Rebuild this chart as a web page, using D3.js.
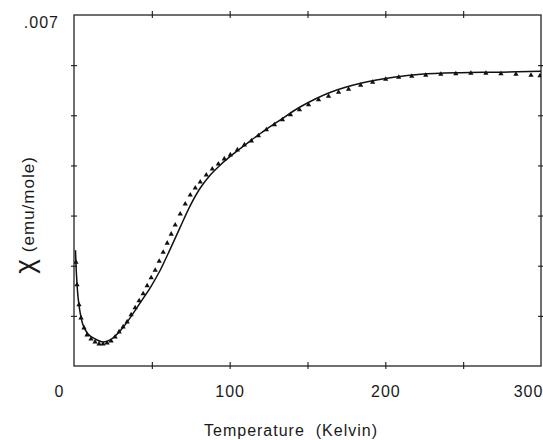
<!DOCTYPE html>
<html>
<head>
<meta charset="utf-8">
<script src="https://cdn.jsdelivr.net/npm/d3@7"></script>
<style>
  html, body { margin: 0; padding: 0; background: #fff; }
  text { font-family: "Liberation Sans", Arial, sans-serif; fill: #1a1a1a; }
</style>
</head>
<body>
<svg id="chart" width="543" height="440"></svg>
<script>
// ---- data (Temperature in K, susceptibility in 1e-3 emu/mole) ----
const fitT   = [0.97, 1.61, 2.58, 3.86, 5.79, 9.01, 13.52, 18.67, 23.18, 29.61, 36.05, 42.49, 48.93, 55.37, 61.80, 68.24, 74.68, 81.12, 87.55, 93.99, 102.36, 113.30, 122.96, 132.62, 145.49, 164.81, 184.12, 205.37, 222.76, 248.51, 274.26, 300];
const fitChi = [2.31, 1.81, 1.38, 1.08, 0.82, 0.64, 0.54, 0.48, 0.52, 0.70, 0.96, 1.26, 1.56, 1.91, 2.33, 2.77, 3.20, 3.55, 3.81, 4.01, 4.23, 4.49, 4.71, 4.91, 5.17, 5.46, 5.64, 5.76, 5.82, 5.85, 5.86, 5.88].map(v => v * 1e-3);

const dataT   = [1.29, 1.93, 3.22, 4.51, 6.44, 8.37, 10.94, 13.52, 16.09, 18.67, 21.25, 23.82, 26.40, 28.97, 31.55, 34.13, 36.70, 39.28, 41.85, 44.43, 47.00, 49.58, 52.16, 54.72, 57.30, 59.87, 62.45, 65.02, 68.24, 71.46, 74.68, 77.90, 81.12, 84.98, 88.84, 92.71, 96.57, 100.43, 104.94, 109.44, 113.95, 118.46, 123.61, 128.76, 133.91, 139.06, 144.85, 150.65, 157.09, 163.52, 169.96, 176.40, 184.12, 191.85, 200.22, 208.59, 216.96, 225.97, 235.63, 245.29, 254.94, 264.60, 274.26, 283.91, 293.57, 299.4];
const dataChi = [2.07, 1.62, 1.22, 0.96, 0.76, 0.62, 0.54, 0.48, 0.44, 0.44, 0.46, 0.50, 0.58, 0.68, 0.78, 0.88, 1.02, 1.16, 1.30, 1.44, 1.60, 1.76, 1.91, 2.09, 2.27, 2.45, 2.63, 2.81, 3.03, 3.23, 3.41, 3.55, 3.67, 3.81, 3.93, 4.03, 4.13, 4.21, 4.31, 4.41, 4.49, 4.59, 4.71, 4.81, 4.91, 5.01, 5.11, 5.21, 5.31, 5.38, 5.46, 5.52, 5.60, 5.66, 5.72, 5.76, 5.78, 5.80, 5.82, 5.83, 5.84, 5.84, 5.83, 5.82, 5.80, 5.79].map(v => v * 1e-3);

const xTicks = [0, 50, 100, 150, 200, 250, 300];
const xLabels = [0, 100, 200, 300];
const yTicks = [0.001, 0.002, 0.003, 0.004, 0.005, 0.006];
const yLabels = [0.007];
const xTitle = "Temperature  (Kelvin)";
const yTitleSym = "χ";
const yTitleRest = "(emu/mole)";

// ---- scales ----
const svg = d3.select("#chart");
const x = d3.scaleLinear().domain([0, 300]).range([74, 541]);
const y = d3.scaleLinear().domain([0, 0.007]).range([366, 15]);

const ink = "#1a1a1a";

// frame
svg.append("rect")
  .attr("x", x(0)).attr("y", y(0.007))
  .attr("width", x(300) - x(0)).attr("height", y(0) - y(0.007))
  .attr("fill", "none").attr("stroke", "#333").attr("stroke-width", 1.4);

function styleAxis(g) {
  g.select(".domain").remove();
  g.selectAll(".tick line").attr("stroke", ink).attr("stroke-width", 1.1);
}

const inner = xTicks.slice(1, -1);

// bottom axis: ticks crossing the line, labels every 100
svg.append("g").attr("transform", `translate(0,${y(0)})`)
  .call(d3.axisBottom(x).tickValues(inner).tickSize(3).tickFormat(""))
  .call(styleAxis);
svg.append("g").attr("transform", `translate(0,${y(0)})`)
  .call(d3.axisBottom(x).tickValues(inner).tickSize(-4).tickFormat(""))
  .call(styleAxis);
const bl = svg.append("g").attr("transform", `translate(0,${y(0)})`)
  .call(d3.axisBottom(x).tickValues(xLabels).tickSize(0).tickFormat(d3.format("d")))
  .call(styleAxis);
bl.selectAll(".tick text")
  .attr("y", 31).attr("dy", 0)
  .attr("dx", d => d === 0 ? -15 : (d === 300 ? -13 : 0))
  .style("font-size", "16px").style("letter-spacing", "1px")
  .attr("fill", ink);

// top axis ticks
svg.append("g").attr("transform", `translate(0,${y(0.007)})`)
  .call(d3.axisTop(x).tickValues(inner).tickSize(4).tickFormat(""))
  .call(styleAxis);
svg.append("g").attr("transform", `translate(0,${y(0.007)})`)
  .call(d3.axisTop(x).tickValues(inner).tickSize(-3).tickFormat(""))
  .call(styleAxis);

// left axis
svg.append("g").attr("transform", `translate(${x(0)},0)`)
  .call(d3.axisLeft(y).tickValues(yTicks).tickSize(3).tickFormat(""))
  .call(styleAxis);
svg.append("g").attr("transform", `translate(${x(0)},0)`)
  .call(d3.axisLeft(y).tickValues(yTicks).tickSize(-3).tickFormat(""))
  .call(styleAxis);
const ll = svg.append("g").attr("transform", `translate(${x(0)},0)`)
  .call(d3.axisLeft(y).tickValues(yLabels).tickSize(0).tickFormat(d => d3.format(".3f")(d).replace(/^0/, "")))
  .call(styleAxis);
ll.selectAll(".tick text")
  .attr("x", -15).attr("dy", 12)
  .style("font-size", "16px").style("letter-spacing", "1px")
  .attr("fill", ink);

// right axis ticks
svg.append("g").attr("transform", `translate(${x(300)},0)`)
  .call(d3.axisRight(y).tickValues(yTicks).tickSize(3).tickFormat(""))
  .call(styleAxis);
svg.append("g").attr("transform", `translate(${x(300)},0)`)
  .call(d3.axisRight(y).tickValues(yTicks).tickSize(-3).tickFormat(""))
  .call(styleAxis);

// clip for plot
svg.append("clipPath").attr("id", "clip")
  .append("rect").attr("x", x(0)).attr("y", y(0.007) - 5)
  .attr("width", x(300) - x(0)).attr("height", y(0) - y(0.007) + 5);

const plot = svg.append("g").attr("clip-path", "url(#clip)");

// data markers
const dataPts = dataT.map((t, i) => [t, dataChi[i]]);
plot.selectAll("path.pt").data(dataPts).enter().append("path")
  .attr("class", "pt")
  .attr("d", d3.symbol().type(d3.symbolTriangle).size(12))
  .attr("transform", d => `translate(${x(d[0])},${y(d[1])})`)
  .attr("fill", "#111");

// fit line
const fitPts = fitT.map((t, i) => [t, fitChi[i]]);
plot.append("path").datum(fitPts)
  .attr("fill", "none").attr("stroke", "#111").attr("stroke-width", 1.5)
  .attr("d", d3.line().x(d => x(d[0])).y(d => y(d[1])).curve(d3.curveCatmullRom.alpha(0.5)));

// axis titles
svg.append("text")
  .attr("x", 291).attr("y", 436)
  .attr("text-anchor", "middle")
  .style("font-size", "16px").style("letter-spacing", "1px").style("white-space", "pre")
  .text(xTitle);

const yt = svg.append("text")
  .attr("transform", "translate(34,215) rotate(-90)")
  .attr("text-anchor", "middle")
  .style("white-space", "pre");
yt.append("tspan").style("font-size", "28px").text(yTitleSym);
yt.append("tspan").style("font-size", "17px").style("letter-spacing", "1px").attr("dx", 7).text(yTitleRest);
</script>
</body>
</html>
